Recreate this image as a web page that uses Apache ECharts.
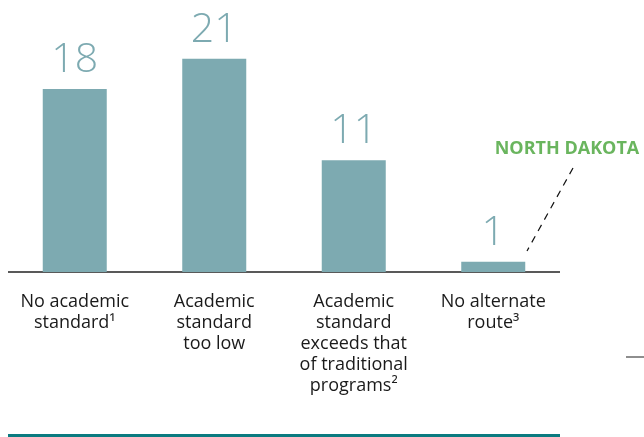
<!DOCTYPE html>
<html>
<head>
<meta charset="utf-8">
<script src="https://cdn.jsdelivr.net/npm/echarts@6/dist/echarts.min.js"></script>
<style>html,body{margin:0;padding:0;background:#fff;}#c{width:644px;height:437px;}</style>
</head>
<body>
<div id="c"></div>
<script>
const categories = [
  "No academic\nstandard\u00B9",
  "Academic\nstandard\ntoo low",
  "Academic\nstandard\nexceeds that\nof traditional\nprograms\u00B2",
  "No alternate\nroute\u00B3"
];
const values = [18, 21, 11, 1];
const annotationText = "NORTH DAKOTA";

const chart = echarts.init(document.getElementById('c'), null, {renderer: 'canvas'});
chart.setOption({
  animation: false,
  grid: {left: 5, width: 558, top: 18, height: 254},
  xAxis: {
    type: 'category',
    data: categories,
    axisLine: {show: false},
    axisTick: {show: false},
    axisLabel: {
      interval: 0, margin: 19, color: '#1a1a1a',
      fontFamily: 'Open Sans', fontSize: 18, lineHeight: 21
    }
  },
  yAxis: {
    type: 'value', min: 0, max: 25,
    show: false, splitLine: {show: false}
  },
  series: [{
    type: 'bar',
    data: values,
    barWidth: 64,
    itemStyle: {color: '#7daab1'},
    label: {
      show: true, position: 'top', distance: 8,
      color: '#7daab1', fontFamily: 'Open Sans', fontWeight: 300, fontSize: 41
    }
  }],
  graphic: [
    {type: 'line', shape: {x1: 8, y1: 272, x2: 560, y2: 272}, style: {stroke: '#222', lineWidth: 1.5}},
    {type: 'rect', shape: {x: 8, y: 434, width: 552, height: 3}, style: {fill: '#0b7b80'}},
    {type: 'line', shape: {x1: 573, y1: 168, x2: 527, y2: 251}, style: {stroke: '#111', lineWidth: 1.2, lineDash: [7, 6]}},
    {type: 'text', x: 567, y: 149, style: {text: annotationText, fill: '#6ab55e', font: 'bold 18px "Open Sans"', textAlign: 'center', textVerticalAlign: 'middle'}},
    {type: 'line', shape: {x1: 626, y1: 357, x2: 644, y2: 357}, style: {stroke: '#444', lineWidth: 1.2}}
  ]
});
</script>
</body>
</html>
